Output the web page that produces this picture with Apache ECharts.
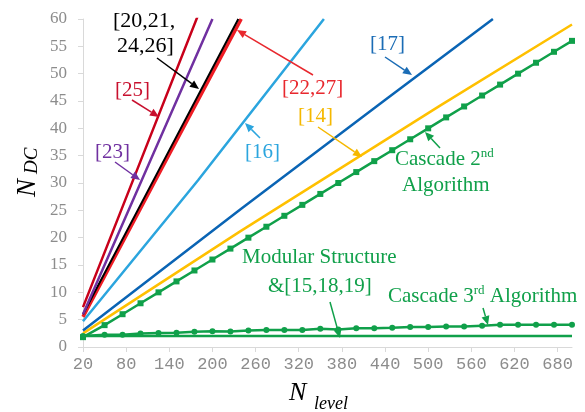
<!DOCTYPE html>
<html>
<head>
<meta charset="utf-8">
<script src="https://cdn.jsdelivr.net/npm/echarts@6/dist/echarts.min.js"></script>
<style>
  html, body { margin: 0; padding: 0; background: #fff; }
  #chart { width: 585px; height: 412px; }
</style>
</head>
<body>
<div id="chart"></div>
<script>
// Number of levels (x) and number of DC sources (y) for each topology.
const xTicks = [20, 80, 140, 200, 260, 320, 380, 440, 500, 560, 620, 680];

// Cascade algorithms are sampled at these level counts.
const cascadeLevels = [20, 50, 75, 100, 125, 150, 175, 200, 225, 250, 275, 300, 325, 350,
  375, 400, 425, 450, 475, 500, 525, 550, 575, 600, 625, 650, 675, 700];
const cascade2nd = [1.8, 4, 6, 8, 10, 12, 14, 16, 18, 20, 22, 24, 26, 28,
  30, 32, 34, 36, 38, 40, 42, 44, 46, 48, 50, 52, 54, 56];
const cascade3rd = [2, 2.25, 2.25, 2.45, 2.55, 2.6, 2.8, 2.9, 2.85, 3.0, 3.1, 3.1, 3.1, 3.35,
  3.2, 3.45, 3.45, 3.5, 3.65, 3.65, 3.75, 3.75, 3.9, 4.05, 4.05, 4.05, 4.05, 4.05];

// Straight-line topologies: level counts and DC counts.
const modularN = [20, 700];
const modularDC = [2, 2];
const ref14N = [20, 238, 516, 700];
const ref14DC = [2.5, 21.1, 44.1, 59];
const ref17N = [20, 240, 440, 590];
const ref17DC = [3, 25.3, 45.2, 60];
const ref16N = [20, 180, 355];
const ref16DC = [4.7, 30.5, 60];
const ref22N = [20, 130, 240];
const ref22DC = [5.5, 32.8, 60];
const ref20N = [20, 130, 236];
const ref20DC = [6, 33.5, 60];
const ref23N = [20, 110, 200];
const ref23DC = [6, 33, 60];
const ref25N = [20, 100, 180];
const ref25DC = [7.3, 34, 60.7];

const GREEN = '#10a04a';
const SERIF = '"Liberation Serif", "Times New Roman", serif';

function pairs(xs, ys) { return xs.map((x, i) => [x, ys[i]]); }

function plain(name, xs, ys, color, width) {
  return {
    name, type: 'line', data: pairs(xs, ys), symbol: 'none',
    lineStyle: { color, width }, itemStyle: { color }, clip: true,
    animation: false, silent: true
  };
}

const chart = echarts.init(document.getElementById('chart'), null, { renderer: 'canvas' });

const series = [
  plain('[14]', ref14N, ref14DC, '#ffc000', 2.5),
  {
    name: 'Cascade 2nd', type: 'line', data: pairs(cascadeLevels, cascade2nd),
    symbol: 'rect', symbolSize: 6, showSymbol: true,
    lineStyle: { color: GREEN, width: 2.5 }, itemStyle: { color: GREEN },
    animation: false, silent: true
  },
  plain('Modular', modularN, modularDC, GREEN, 2.5),
  {
    name: 'Cascade 3rd', type: 'line', data: pairs(cascadeLevels, cascade3rd),
    symbol: 'circle', symbolSize: 6, showSymbol: true,
    lineStyle: { color: GREEN, width: 2.5 }, itemStyle: { color: GREEN },
    animation: false, silent: true
  },
  plain('[17]', ref17N, ref17DC, '#0a64b4', 2.5),
  plain('[16]', ref16N, ref16DC, '#2ba5de', 2.5),
  plain('[22,27]', ref22N, ref22DC, '#ee1c24', 3.5),
  plain('[20,21,24,26]', ref20N, ref20DC, '#000000', 2),
  plain('[23]', ref23N, ref23DC, '#7030a0', 2.5),
  plain('[25]', ref25N, ref25DC, '#c8001a', 2.5)
];

// Annotation arrows: [x1, y1, x2, y2, colour], head at the second point.
const arrows = [
  [157, 58, 199, 89, '#000000'],
  [132, 100, 159, 117, '#c8102e'],
  [115, 162, 140, 180, '#7030a0'],
  [313, 75, 237, 30, '#e8282e'],
  [260, 138, 245, 123, '#2ba5de'],
  [385, 57, 412, 75, '#1a6cb5'],
  [318, 127, 362, 157, '#f5b800'],
  [440, 148, 425, 132, GREEN],
  [330, 302, 340, 338, GREEN],
  [483, 308, 488, 325, GREEN]
];

function arrowGraphics(a) {
  const [x1, y1, x2, y2, c] = a;
  const dx = x2 - x1, dy = y2 - y1, L = Math.hypot(dx, dy);
  const ux = dx / L, uy = dy / L, hl = 9, hw = 4;
  const bx = x2 - ux * hl, by = y2 - uy * hl;
  return [
    { type: 'line', shape: { x1, y1, x2: bx, y2: by }, style: { stroke: c, lineWidth: 1.5 }, silent: true, z: 100 },
    { type: 'polygon', shape: { points: [[x2, y2], [bx - uy * hw, by + ux * hw], [bx + uy * hw, by - ux * hw]] },
      style: { fill: c }, silent: true, z: 100 }
  ];
}

function label(text, x, y, color, size, extra) {
  return Object.assign({
    type: 'text', x, y, silent: true, z: 100,
    style: { text, fill: color, font: (size || 21) + 'px ' + SERIF, verticalAlign: 'middle', align: 'left' }
  }, extra || {});
}

function supLabel(main, sup, rest, x, y, color) {
  return {
    type: 'text', x, y, silent: true, z: 100,
    style: {
      text: '{a|' + main + '}{s|' + sup + '}' + (rest ? '{a|' + rest + '}' : ''),
      verticalAlign: 'middle', align: 'left',
      rich: {
        a: { fill: color, fontSize: 21, fontFamily: SERIF, lineHeight: 24 },
        s: { fill: color, fontSize: 13, fontFamily: SERIF, verticalAlign: 'top', lineHeight: 24, padding: [0, 0, 10, 0] }
      }
    }
  };
}

function italic(text, x, y, size) {
  return { type: 'text', x, y, silent: true,
    style: { text, font: 'italic ' + size + 'px ' + SERIF, fill: '#000', verticalAlign: 'middle', align: 'left' } };
}

const graphics = [];
arrows.forEach(a => graphics.push(...arrowGraphics(a)));
graphics.push(
  label('[20,21,', 113, 21, '#000000', 22),
  label('24,26]', 117, 46, '#000000', 22),
  label('[25]', 115, 90, '#c8102e'),
  label('[23]', 95, 152, '#7030a0'),
  label('[22,27]', 282, 88, '#e8282e'),
  label('[16]', 245, 152, '#2ba5de'),
  label('[17]', 370, 44, '#1a6cb5'),
  label('[14]', 298, 116, '#f5b800'),
  supLabel('Cascade 2', 'nd', '', 395, 159, GREEN),
  label('Algorithm', 402, 185, GREEN),
  label('Modular Structure', 242, 257, GREEN),
  label('&[15,18,19]', 268, 286, GREEN),
  supLabel('Cascade 3', 'rd', ' Algorithm', 388, 296, GREEN),
  // x axis title
  italic('N', 289, 393, 26),
  italic('level', 314, 404, 18),
  // y axis title, rotated to read bottom-to-top
  { type: 'group', x: 28, y: 197, rotation: Math.PI / 2, silent: true, children: [
    italic('N', 0, 0, 27),
    italic('DC', 23, 4, 19)
  ] }
);

chart.setOption({
  backgroundColor: '#ffffff',
  animation: false,
  grid: { left: 83, right: 13, top: 19, bottom: 65, containLabel: false, outerBoundsMode: 'none' },
  xAxis: {
    type: 'value', min: 20, max: 700,
    axisLine: { show: true, lineStyle: { color: '#d9d9d9', width: 1 } },
    axisTick: { show: true, length: 5, lineStyle: { color: '#d9d9d9' }, customValues: xTicks },
    axisLabel: { customValues: xTicks, color: '#8c8c8c', fontFamily: '"Liberation Mono", "Courier New", monospace', fontSize: 17, margin: 9 },
    splitLine: { show: false }
  },
  yAxis: {
    type: 'value', min: 0, max: 60, interval: 5,
    axisLine: { show: true, lineStyle: { color: '#d9d9d9', width: 1 } },
    axisTick: { show: true, length: 5, lineStyle: { color: '#d9d9d9' } },
    axisLabel: { color: '#8c8c8c', fontFamily: SERIF, fontSize: 17, margin: 16 },
    splitLine: { show: false }
  },
  series,
  graphic: graphics
});
</script>
</body>
</html>
